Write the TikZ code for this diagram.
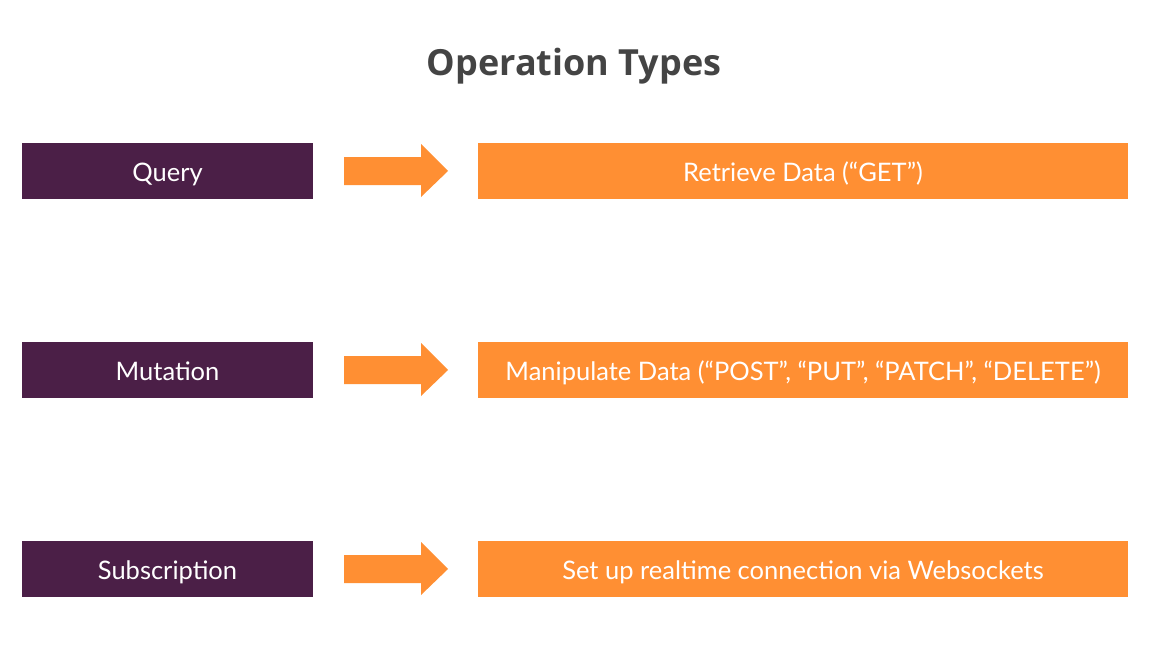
\documentclass[tikz,border=0pt]{standalone}
\usepackage{fontspec}
\setmainfont{Lato}
\newfontfamily\titlefont{Open Sans}
\definecolor{plum}{HTML}{4B1F47}
\definecolor{tangerine}{HTML}{FF8F33}
\definecolor{headgray}{HTML}{444444}
\begin{document}
\begin{tikzpicture}[x=1pt,y=-1pt,
  boxtext/.style={text=white,font=\fontsize{25.5}{30}\selectfont,inner sep=0pt,
    text height=22pt,text depth=1pt},
  kind/.style={boxtext,fill=plum,draw=none,minimum width=291pt,minimum height=56pt},
  meaning/.style={boxtext,fill=tangerine,draw=none,minimum width=650pt,minimum height=56pt},
  bigarrow/.style={fill=tangerine,draw=none}]
\useasboundingbox (0,0) rectangle (1153,650);
% corner accent
\fill[tangerine] (0,0) -- (5,0) arc[start angle=0,end angle=-90,radius=5] -- cycle;
% heading
\node[font=\titlefont\bfseries\fontsize{36}{40}\selectfont,text=headgray] (title) at (574,66) {Operation Types};
% rows: operation kind, arrow, what it does
\foreach \name/\lbl/\desc/\yy in {
  q/Query/{Retrieve Data (“GET”)}/171,
  m/Mutation/{Manipulate Data (“POST”, “PUT”, “PATCH”, “DELETE”)}/370,
  s/Subscription/{Set up realtime connection via Websockets}/569}{
  \node[kind] (\name k) at (167.5,\yy) {\lbl};
  \node[meaning] (\name d) at (803,\yy) {\desc};
  \fill[bigarrow] (344,\yy-14) -- (421,\yy-14) -- (421,\yy-27) -- (448,\yy)
    -- (421,\yy+26) -- (421,\yy+14) -- (344,\yy+14) -- cycle;
}
\end{tikzpicture}
\end{document}
